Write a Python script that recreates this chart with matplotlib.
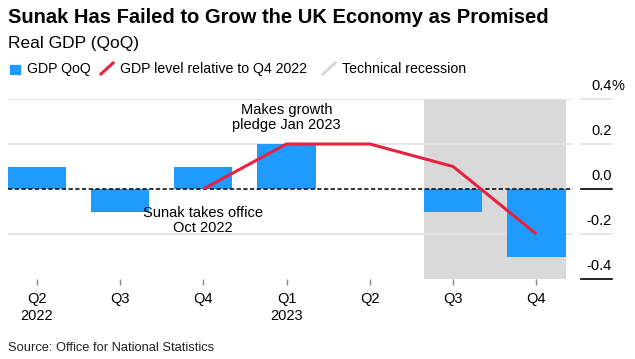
import numpy as np
import matplotlib
matplotlib.use('Agg')
import matplotlib.pyplot as plt
import matplotlib.transforms as mtransforms
from matplotlib.patches import Rectangle
from matplotlib.lines import Line2D

# data
quarters = ['Q2', 'Q3', 'Q4', 'Q1', 'Q2', 'Q3', 'Q4']
years = ['2022', '', '', '2023', '', '', '']
gdp_qoq = [0.1, -0.1, 0.1, 0.2, 0.0, -0.1, -0.3]
level_vs_q4_2022 = [np.nan, np.nan, 0.0, 0.2, 0.2, 0.1, -0.2]
recession_start, recession_end = 5, 6
yticks = [0.4, 0.2, 0.0, -0.2, -0.4]
ytick_labels = ['0.4', '0.2', '0.0', '-0.2', '-0.4']

BLUE = '#1f9bfd'
RED = '#e8213f'
SHADE = '#d9d9d9'
GRID = '#e3e3e3'

plt.rcParams['font.family'] = ['Liberation Sans', 'DejaVu Sans']

W, H = 635, 359
fig = plt.figure(figsize=(W / 100., H / 100.), dpi=100)

def fx(x):
    return x / float(W)

def fy(y):
    return 1 - y / float(H)

ax = fig.add_axes([fx(8), fy(279), fx(565), 180. / H])
x = np.arange(len(quarters))

ax.axvspan(recession_start - 0.35, recession_end + 0.35, color=SHADE, lw=0, zorder=0)
for v in [0.4, 0.2, -0.2]:
    ax.axhline(v, color=GRID, lw=1.2, zorder=1)
ax.bar(x, gdp_qoq, width=0.7, color=BLUE, zorder=2)
ax.axhline(0, color='black', lw=1.1, ls=(0, (2.8, 1.6)), zorder=3)
ax.plot(x, level_vs_q4_2022, color=RED, lw=2.2, zorder=4, solid_capstyle='butt')

ax.set_xlim(-0.345, 6.44)
ax.set_ylim(-0.4, 0.4)
for s in ax.spines.values():
    s.set_visible(False)
ax.set_yticks([])
ax.set_xticks(x)
ax.set_xticklabels([q + '\n' + y for q, y in zip(quarters, years)], fontsize=10.5)
for lbl in ax.get_xticklabels():
    lbl.set_linespacing(1.3)
ax.tick_params(axis='x', direction='out', length=4.3, width=1, color='#888888', pad=5)

# y axis labels sit at the right, above short tick lines
trans = mtransforms.blended_transform_factory(fig.transFigure, ax.transData)
for v, lab in zip(yticks, ytick_labels):
    c = 'black' if v in (0.0, -0.4) else GRID
    ax.plot([fx(581), fx(612)], [v, v], color=c, lw=1.2, transform=trans, clip_on=False)
    ax.annotate(lab, xy=(fx(612), v), xycoords=trans, xytext=(0, 6.5),
                textcoords='offset points', ha='right', va='baseline', fontsize=10.5)
ax.annotate('%', xy=(fx(612), 0.4), xycoords=trans, xytext=(0, 6.5),
            textcoords='offset points', ha='left', va='baseline', fontsize=10.5)

# annotations
ax.text(3, 0.316, 'Makes growth\npledge Jan 2023', ha='center', va='center',
        fontsize=10.5, linespacing=1.1, zorder=5)
ax.text(2, -0.142, 'Sunak takes office\nOct 2022', ha='center', va='center',
        fontsize=10.5, linespacing=1.1, zorder=5)

# titles
fig.text(fx(8), fy(23), 'Sunak Has Failed to Grow the UK Economy as Promised',
         fontsize=14.5, fontweight='bold', va='baseline')
fig.text(fx(8), fy(48), 'Real GDP (QoQ)', fontsize=12.5, va='baseline')

# legend
fig.add_artist(Rectangle((fx(10), fy(74)), fx(10), 9. / H, color=BLUE,
                         transform=fig.transFigure))
fig.text(fx(27), fy(73), 'GDP QoQ', fontsize=10.2, va='baseline')
fig.add_artist(Line2D([fx(101), fx(113)], [fy(74), fy(63)], color=RED, lw=2.2,
                      transform=fig.transFigure))
fig.text(fx(120), fy(73), 'GDP level relative to Q4 2022', fontsize=10.2, va='baseline')
fig.add_artist(Line2D([fx(323), fx(335)], [fy(74), fy(63)], color=SHADE, lw=2.2,
                      transform=fig.transFigure))
fig.text(fx(342), fy(73), 'Technical recession', fontsize=10.2, va='baseline')

fig.text(fx(8), fy(351), 'Source: Office for National Statistics', fontsize=9.3,
         va='baseline', color='#222222')

fig.savefig('out.png', dpi=100)
